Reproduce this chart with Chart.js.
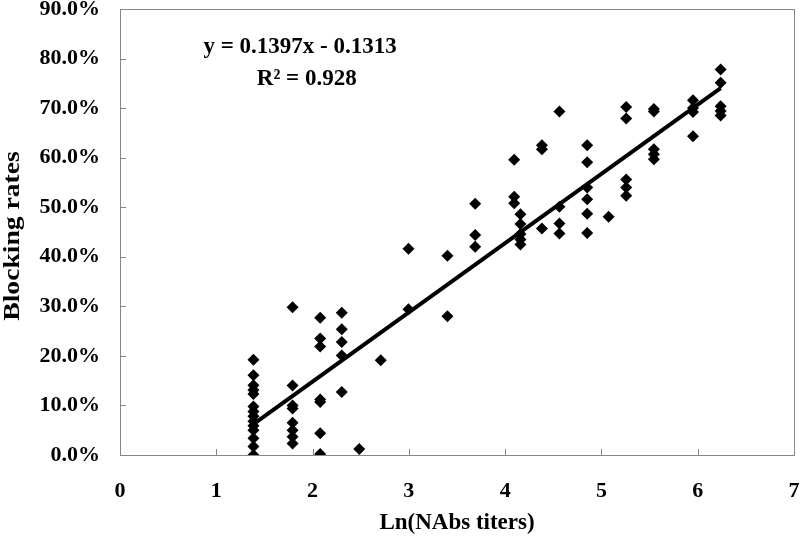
<!DOCTYPE html>
<html>
<head>
<meta charset="utf-8">
<script src="https://cdn.jsdelivr.net/npm/chart.js"></script>
<style>
  html, body { margin: 0; padding: 0; background: #fff; }
  #wrap { width: 800px; height: 540px; }
</style>
</head>
<body>
<div id="wrap"><canvas id="scatter-chart" width="800" height="540"></canvas></div>
<script>
// Ln(NAbs titers) for each sample
const lnTiters = [
  1.386, 1.386, 1.386, 1.386, 1.386, 1.386, 1.386, 1.386, 1.386, 1.386, 1.386, 1.386, 1.386, 1.386,
  1.792, 1.792, 1.792, 1.792, 1.792, 1.792, 1.792, 1.792,
  2.079, 2.079, 2.079, 2.079, 2.079, 2.079, 2.079,
  2.303, 2.303, 2.303, 2.303, 2.303,
  2.485, 2.708,
  2.996, 2.996,
  3.401, 3.401,
  3.689, 3.689, 3.689,
  4.094, 4.094, 4.094,
  4.159, 4.159, 4.159, 4.159, 4.159,
  4.382, 4.382, 4.382,
  4.564, 4.564, 4.564, 4.564,
  4.852, 4.852, 4.852, 4.852, 4.852, 4.852,
  5.075,
  5.257, 5.257, 5.257, 5.257, 5.257,
  5.545, 5.545, 5.545, 5.545, 5.545,
  5.951, 5.951, 5.951, 5.951,
  6.238, 6.238, 6.238, 6.238, 6.238
];

// Blocking rates (fraction) for each sample
const blockingRates = [
  0.192, 0.161, 0.141, 0.131, 0.123, 0.098, 0.088, 0.078, 0.068, 0.059, 0.050, 0.034, 0.017, 0.000,
  0.298, 0.140, 0.100, 0.094, 0.065, 0.050, 0.037, 0.023,
  0.277, 0.235, 0.219, 0.112, 0.107, 0.044, 0.002,
  0.287, 0.254, 0.228, 0.201, 0.127,
  0.012, 0.191,
  0.416, 0.294,
  0.402, 0.280,
  0.507, 0.444, 0.420,
  0.596, 0.521, 0.508,
  0.486, 0.466, 0.446, 0.435, 0.425,
  0.625, 0.617, 0.457,
  0.693, 0.501, 0.467, 0.447,
  0.625, 0.591, 0.540, 0.516, 0.487, 0.448,
  0.481,
  0.702, 0.679, 0.556, 0.540, 0.523,
  0.698, 0.693, 0.617, 0.607, 0.597,
  0.716, 0.700, 0.692, 0.643,
  0.778, 0.751, 0.704, 0.694, 0.685
];

// Linear trend line end points
const trendX = [1.386, 6.238];
const trendY = [0.0623, 0.7402];

const equationText = 'y = 0.1397x - 0.1313';
const rSquaredText = 'R\u00B2 = 0.928';
const xTitle = 'Ln(NAbs titers)';
const yTitle = 'Blocking rates';

const FONT = "'Liberation Serif', 'Times New Roman', serif";
const AXIS_GREY = '#868686';

// frame around the plot area plus inward tick marks
const frameAndTicks = {
  id: 'frameAndTicks',
  afterDatasetsDraw(chart) {
    const { ctx, chartArea: a, scales } = chart;
    ctx.save();
    ctx.strokeStyle = AXIS_GREY;
    ctx.lineWidth = 1;
    ctx.strokeRect(a.left + 0.5, a.top + 0.5, a.right - a.left, a.bottom - a.top);
    ctx.beginPath();
    scales.x.ticks.forEach(t => {
      const px = Math.round(scales.x.getPixelForValue(t.value)) + 0.5;
      ctx.moveTo(px, a.bottom);
      ctx.lineTo(px, a.bottom - 6);
    });
    scales.y.ticks.forEach(t => {
      const py = Math.round(scales.y.getPixelForValue(t.value)) + 0.5;
      ctx.moveTo(a.left, py);
      ctx.lineTo(a.left + 6, py);
    });
    ctx.stroke();
    ctx.restore();
  }
};

// equation, R squared and the two axis titles
const textLabels = {
  id: 'textLabels',
  afterDraw(chart) {
    const { ctx, scales, chartArea: a } = chart;
    ctx.save();
    ctx.fillStyle = '#000';
    ctx.textAlign = 'center';
    ctx.textBaseline = 'middle';
    ctx.font = 'bold 23px ' + FONT;
    ctx.fillText(equationText, scales.x.getPixelForValue(1.87), scales.y.getPixelForValue(0.823));
    ctx.fillText(rSquaredText, scales.x.getPixelForValue(1.94), scales.y.getPixelForValue(0.759));

    // axis titles centred on the plot area
    ctx.font = 'bold 23px ' + FONT;
    ctx.fillText(xTitle, (a.left + a.right) / 2, 523);

    ctx.translate(13, (a.top + a.bottom) / 2 + 4);
    ctx.rotate(-Math.PI / 2);
    ctx.scale(1.2, 1);
    ctx.fillText(yTitle, 0, 0);
    ctx.restore();
  }
};

const ctx = document.getElementById('scatter-chart').getContext('2d');

new Chart(ctx, {
  type: 'scatter',
  data: {
    datasets: [
      {
        label: 'Samples',
        data: lnTiters.map((x, i) => ({ x: x, y: blockingRates[i] })),
        pointStyle: 'rectRot',
        pointRadius: 6,
        pointHoverRadius: 6,
        backgroundColor: '#000',
        borderColor: '#000',
        borderWidth: 0
      },
      {
        type: 'line',
        label: 'Linear',
        data: trendX.map((x, i) => ({ x: x, y: trendY[i] })),
        borderColor: '#000',
        borderWidth: 4,
        pointRadius: 0,
        fill: false
      }
    ]
  },
  options: {
    responsive: false,
    animation: false,
    layout: { padding: { top: 9, right: 5, left: 0, bottom: 0 } },
    plugins: {
      legend: { display: false },
      tooltip: { enabled: false }
    },
    scales: {
      x: {
        type: 'linear',
        min: 0,
        max: 7,
        afterFit: s => { s.height = 85; s.paddingLeft = 0; s.paddingRight = 5; },
        grid: { display: false, drawTicks: false },
        border: { display: false },
        ticks: {
          stepSize: 1,
          padding: 23,
          color: '#000',
          font: { family: FONT, size: 22, weight: 'bold' }
        }
      },
      y: {
        min: 0,
        max: 0.9,
        afterFit: s => { s.width = 120; s.paddingTop = 0; s.paddingBottom = 0; },
        grid: { display: false, drawTicks: false },
        border: { display: false },
        ticks: {
          stepSize: 0.1,
          padding: 20,
          color: '#000',
          font: { family: FONT, size: 22, weight: 'bold' },
          callback: v => (v * 100).toFixed(1) + '%'
        }
      }
    }
  },
  plugins: [frameAndTicks, textLabels]
});
</script>
</body>
</html>
